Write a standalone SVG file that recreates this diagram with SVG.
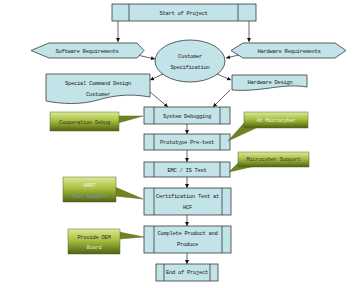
<svg xmlns="http://www.w3.org/2000/svg" width="360" height="288" viewBox="0 0 360 288">
<defs>
<marker id="ah" viewBox="0 0 10 10" refX="10" refY="5" markerWidth="4" markerHeight="4" markerUnits="userSpaceOnUse" orient="auto">
<path d="M0,0 L10,5 L0,10 Z" fill="#111"/>
</marker>
<linearGradient id="gr" x1="0" y1="0" x2="0" y2="1">
<stop offset="0" stop-color="#dbe99a"/>
<stop offset="0.45" stop-color="#a9c040"/>
<stop offset="1" stop-color="#4e6210"/>
</linearGradient>
</defs>
<style>
.b{fill:#c2e3e7;stroke:#3a3a3a;stroke-width:0.8}
.l{stroke:#3a3a3a;stroke-width:0.8;fill:none}
.t{font-family:"Liberation Mono",monospace;font-size:5.5px;letter-spacing:-0.3px;fill:#222;text-anchor:middle}
.c{fill:url(#gr);stroke:#5a6a20;stroke-width:0.5}
.p{fill:#6f8420;stroke:#5a6a20;stroke-width:0.5}
.cn{stroke:#222;stroke-width:0.7;fill:none;marker-end:url(#ah)}
</style>
<rect width="360" height="288" fill="#fff"/>
<g id="connectors">
<line class="cn" x1="118" y1="21" x2="118" y2="42"/>
<line class="cn" x1="249" y1="21" x2="249" y2="42"/>
<line class="cn" x1="137" y1="55" x2="155" y2="59"/>
<line class="cn" x1="243" y1="54" x2="226" y2="58"/>
<line class="cn" x1="163" y1="74" x2="150" y2="80"/>
<line class="cn" x1="217" y1="74" x2="231" y2="80"/>
<line class="cn" x1="150" y1="92" x2="168" y2="107"/>
<line class="cn" x1="230" y1="90" x2="213" y2="107"/>
<line class="cn" x1="187" y1="124" x2="187" y2="134"/>
<line class="cn" x1="187" y1="150" x2="187" y2="162"/>
<line class="cn" x1="187" y1="177" x2="187" y2="188"/>
<line class="cn" x1="187" y1="215" x2="187" y2="226"/>
<line class="cn" x1="187" y1="253" x2="187" y2="264"/>
</g>
<g id="start">
<rect class="b" x="112" y="4" width="144" height="17"/>
<line class="l" x1="129" y1="4" x2="129" y2="21"/>
<line class="l" x1="238" y1="4" x2="238" y2="21"/>
<text class="t" x="183.5" y="14.5">Start of Project</text>
</g>
<g id="software">
<polygon class="b" points="31,50.5 49,43 137,43 144,50.5 137,58 49,58"/>
<text class="t" x="87" y="52.5">Software Requirements</text>
</g>
<g id="hardware-req">
<polygon class="b" points="231,50.5 243,43 335,43 346,50.5 335,58 243,58"/>
<text class="t" x="289" y="52.5">Hardware Requirements</text>
</g>
<g id="customer-spec">
<ellipse class="b" cx="190" cy="61" rx="35" ry="21"/>
<text class="t" x="190" y="57.5">Customer</text>
<text class="t" x="190" y="69">Specification</text>
</g>
<g id="special-cmd">
<path class="b" d="M46,74 H150 V97 C128,93 112,96 98,100 C80,105 62,104 46,101 Z"/>
<text class="t" x="98" y="85">Special Command Design</text>
<text class="t" x="98" y="96">Customer</text>
</g>
<g id="hardware-design">
<path class="b" d="M232,75 H307 V87 C295,85 284,86 270,88 C256,90 243,91 232,90 Z"/>
<text class="t" x="270" y="84">Hardware Design</text>
</g>
<g id="system-debug">
<rect class="b" x="144" y="107" width="86" height="17"/>
<line class="l" x1="154" y1="107" x2="154" y2="124"/>
<line class="l" x1="220" y1="107" x2="220" y2="124"/>
<text class="t" x="187" y="117.5">System Debugging</text>
</g>
<g id="prototype">
<rect class="b" x="144" y="134" width="86" height="16"/>
<line class="l" x1="154" y1="134" x2="154" y2="150"/>
<line class="l" x1="220" y1="134" x2="220" y2="150"/>
<text class="t" x="187" y="144">Prototype Pre-test</text>
</g>
<g id="emc">
<rect class="b" x="144" y="162" width="86" height="15"/>
<line class="l" x1="154" y1="162" x2="154" y2="177"/>
<line class="l" x1="220" y1="162" x2="220" y2="177"/>
<text class="t" x="187" y="171.5">EMC / IS Test</text>
</g>
<g id="certification">
<rect class="b" x="144" y="188" width="87" height="27"/>
<line class="l" x1="154" y1="188" x2="154" y2="215"/>
<line class="l" x1="222" y1="188" x2="222" y2="215"/>
<text class="t" x="187.5" y="198">Certification Test at</text>
<text class="t" x="187.5" y="209">HCF</text>
</g>
<g id="complete">
<rect class="b" x="144" y="226" width="87" height="27"/>
<line class="l" x1="154" y1="226" x2="154" y2="253"/>
<line class="l" x1="222" y1="226" x2="222" y2="253"/>
<text class="t" x="187.5" y="235">Complete Product and</text>
<text class="t" x="187.5" y="246">Produce</text>
</g>
<g id="end">
<rect class="b" x="156" y="264" width="62" height="17"/>
<line class="l" x1="164" y1="264" x2="164" y2="281"/>
<line class="l" x1="210" y1="264" x2="210" y2="281"/>
<text class="t" x="187" y="274">End of Project</text>
</g>
<g id="coop-debug">
<polygon class="p" points="118,116 143,116 118,123"/>
<rect class="c" x="50" y="112" width="69" height="19"/>
<text class="t" x="84.5" y="123.5" style="fill:#3a3a1a">Cooperation Debug</text>
</g>
<g id="at-microcyber">
<polygon class="p" points="245,122 228,141 257,127.5"/>
<rect class="c" x="244" y="112" width="64" height="16"/>
<text class="t" x="276" y="121.5" style="fill:#e8ebe0">At Microcyber</text>
</g>
<g id="microcyber-support">
<polygon class="p" points="239,162 229,172 253,166.5"/>
<rect class="c" x="238" y="152" width="71" height="15"/>
<text class="t" x="273.5" y="161" style="fill:#3a3a50">Microcyber Support</text>
</g>
<g id="hart">
<polygon class="p" points="115,187 143,199 115,196"/>
<rect class="c" x="63" y="177" width="53" height="25"/>
<text class="t" x="89.5" y="187" style="fill:#eef0e8">HART</text>
<text class="t" x="89.5" y="198" style="fill:#8894c0">Test Support</text>
</g>
<g id="provide-oem">
<polygon class="p" points="119,232 144,237 119,239"/>
<rect class="c" x="68" y="229" width="52" height="25"/>
<text class="t" x="94" y="238.5" style="fill:#333">Provide OEM</text>
<text class="t" x="94" y="249" style="fill:#dde4c0">Board</text>
</g>
</svg>
